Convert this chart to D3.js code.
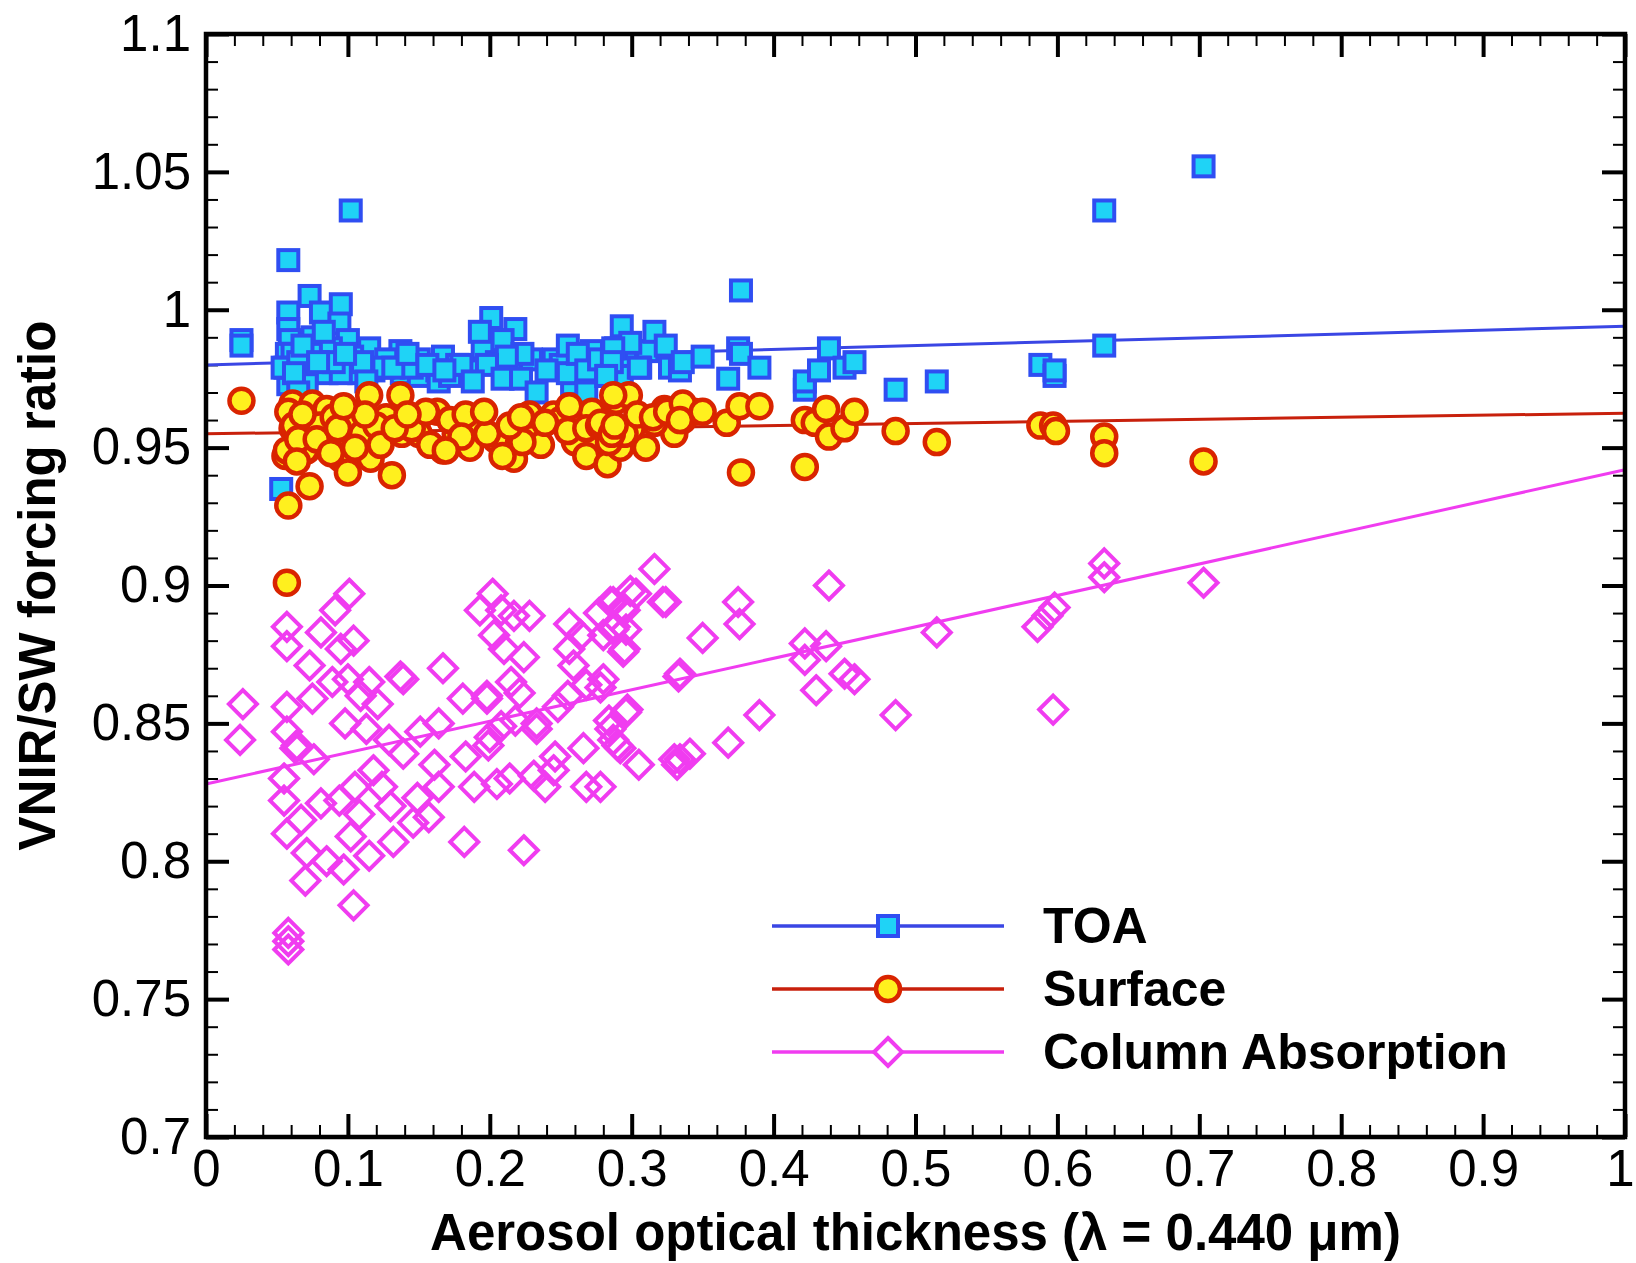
<!DOCTYPE html>
<html>
<head>
<meta charset="utf-8">
<script src="https://cdn.jsdelivr.net/npm/d3@7"></script>
<style>
  body { margin: 0; background: #fff; }
  text { font-family: "Liberation Sans", Arial, Helvetica, sans-serif; }
</style>
</head>
<body>
<div class="chart"></div>
<script>
// data: [aerosol optical thickness, forcing ratio]
const toaPoints = [
  [.025,.989],[.025,.987],[.058,1.018],[.102,1.036],[.058,.999],[.073,1.005],[.081,.999],[.095,1.002],
  [.094,.995],[.100,.989],[.115,.986],[.137,.985],[.150,.982],[.167,.983],[.058,.993],[.059,.989],
  [.057,.984],[.061,.984],[.075,.990],[.075,.984],[.088,.986],[.085,.977],[.103,.983],[.108,.977],
  [.095,.977],[.058,.973],[.071,.973],[.056,.979],[.054,.979],[.118,.978],[.127,.982],[.138,.977],
  [.150,.976],[.163,.978],[.164,.974],[.177,.980],[.053,.935],[.065,.981],[.090,.981],[.110,.981],
  [.125,.979],[.145,.979],[.185,.978],[.245,.982],[.062,.977],[.068,.987],[.079,.981],[.083,.992],
  [.098,.984],[.113,.974],[.132,.979],[.142,.984],[.156,.980],[.172,.976],[.195,.986],[.205,.981],
  [.216,.978],[.229,.982],[.250,.980],[.258,.973],[.272,.985],[.296,.982],[.311,.985],[.327,.979],
  [.065,.970],
  [.201,.997],[.193,.992],[.218,.993],[.209,.989],[.223,.984],[.212,.983],[.198,.980],[.180,.980],
  [.168,.978],[.188,.974],[.209,.975],[.222,.975],[.233,.970],[.240,.978],[.255,.987],[.255,.977],
  [.262,.984],[.268,.978],[.268,.970],[.277,.982],[.283,.976],[.289,.986],[.293,.994],[.293,.976],
  [.299,.988],[.306,.979],[.316,.992],[.324,.987],[.334,.978],[.336,.981],[.287,.986],[.286,.981],
  [.282,.976],[.305,.979],[.350,.983],[.368,.975],[.375,.986],[.377,.984],[.377,1.007],[.390,.979],
  [.422,.971],[.422,.974],[.432,.978],[.439,.986],[.450,.979],[.457,.981],[.486,.971],[.515,.974],
  [.588,.980],[.598,.976],[.598,.978],[.633,1.036],[.633,.987],[.703,1.052]
];
const surfacePoints = [
  [.025,.967],[.058,.929],[.073,.936],[.061,.957],[.061,.966],[.075,.966],[.075,.960],[.085,.952],
  [.071,.949],[.056,.947],[.101,.954],[.095,.946],[.100,.941],[.115,.969],[.137,.969],[.106,.959],
  [.116,.946],[.127,.961],[.138,.955],[.131,.940],[.149,.960],[.150,.955],[.167,.949],[.163,.963],
  [.176,.955],[.085,.964],[.058,.963],[.057,.901],[.062,.958],[.057,.949],[.070,.949],[.065,.953],
  [.080,.958],[.090,.961],[.110,.955],[.120,.958],[.145,.957],[.155,.963],[.190,.958],[.230,.957],
  [.245,.962],[.262,.960],[.275,.951],[.068,.962],[.078,.953],[.088,.948],[.093,.957],[.105,.950],
  [.112,.962],[.123,.951],[.133,.957],[.142,.962],[.158,.951],[.172,.960],[.186,.950],[.193,.959],
  [.204,.953],[.217,.946],[.228,.962],[.236,.951],[.250,.960],[.260,.952],[.272,.963],[.300,.957],
  [.310,.950],[.330,.955],[.064,.945],[.097,.965],
  [.183,.962],[.180,.954],[.169,.949],[.198,.955],[.196,.963],[.209,.947],[.223,.952],[.214,.958],
  [.222,.961],[.239,.959],[.255,.956],[.256,.965],[.268,.957],[.277,.958],[.268,.947],[.289,.967],
  [.298,.969],[.283,.944],[.292,.950],[.295,.955],[.304,.962],[.316,.959],[.323,.964],[.336,.960],
  [.344,.963],[.287,.969],[.278,.959],[.284,.952],[.286,.955],[.288,.958],[.315,.961],[.325,.963],
  [.336,.966],[.334,.960],[.350,.963],[.367,.959],[.376,.965],[.390,.965],[.377,.941],[.422,.943],
  [.422,.960],[.429,.959],[.437,.964],[.439,.954],[.450,.957],[.457,.963],[.486,.956],[.515,.952],
  [.588,.958],[.597,.958],[.599,.956],[.633,.954],[.633,.948],[.703,.945]
];
const columnPoints = [
  [.026,.857],[.024,.844],[.057,.885],[.057,.878],[.101,.897],[.091,.891],[.081,.883],[.104,.880],
  [.095,.877],[.073,.871],[.057,.856],[.075,.859],[.100,.866],[.115,.865],[.121,.857],[.109,.860],
  [.098,.850],[.113,.848],[.089,.865],[.057,.847],[.064,.842],[.063,.841],[.076,.837],[.055,.830],
  [.055,.822],[.057,.810],[.067,.815],[.071,.803],[.070,.793],[.081,.821],[.085,.800],[.097,.797],
  [.102,.809],[.104,.784],[.115,.802],[.118,.833],[.105,.827],[.094,.822],[.108,.817],[.124,.827],
  [.130,.820],[.132,.807],[.139,.839],[.129,.844],[.137,.867],[.139,.866],[.167,.870],[.151,.847],
  [.164,.850],[.161,.835],[.164,.827],[.149,.823],[.157,.816],[.146,.814],[.182,.807],[.181,.859],
  [.183,.838],[.189,.827],[.198,.860],[.198,.859],[.193,.891],[.202,.897],[.208,.891],[.203,.882],
  [.217,.889],[.228,.889],[.210,.877],[.224,.874],[.215,.865],[.221,.861],[.199,.842],[.200,.845],
  [.208,.849],[.218,.851],[.233,.850],[.233,.848],[.205,.828],[.214,.830],[.224,.804],[.231,.831],
  [.239,.827],[.245,.833],[.246,.838],[.256,.886],[.264,.882],[.256,.877],[.259,.871],[.268,.864],
  [.255,.860],[.248,.856],[.266,.841],[.268,.827],[.277,.890],[.280,.882],[.287,.894],[.295,.891],
  [.303,.897],[.316,.906],[.324,.894],[.295,.877],[.288,.885],[.280,.866],[.284,.851],[.296,.854],
  [.287,.844],[.292,.841],[.305,.835],[.333,.867],[.330,.837],[.058,.774],[.058,.771],[.058,.768],
  [.633,.908],[.633,.903],[.703,.901],[.598,.892],[.586,.885],[.593,.889],[.515,.883],[.439,.900],
  [.437,.878],[.422,.879],[.422,.873],[.450,.868],[.457,.866],[.430,.862],[.486,.853],[.597,.855],
  [.390,.853],[.334,.868],[.350,.881],[.375,.894],[.376,.886],[.368,.843],[.334,.837],[.341,.839],
  [.332,.835],[.299,.898],[.322,.894],[.294,.892],[.285,.894],[.296,.884],[.287,.884],[.294,.876],
  [.278,.863],[.297,.855],[.285,.848],[.290,.842],[.278,.827]
];

// fitted lines: [intercept, slope]
const toaFit = [0.980, 0.014];
const surfaceFit = [0.955, 0.0075];
const columnFit = [0.828, 0.114];

const seriesNames = ["TOA", "Surface", "Column Absorption"];
const xTicks = [0, 0.1, 0.2, 0.3, 0.4, 0.5, 0.6, 0.7, 0.8, 0.9, 1];
const xTickLabels = ["0", "0.1", "0.2", "0.3", "0.4", "0.5", "0.6", "0.7", "0.8", "0.9", "1"];
const yTicks = [0.7, 0.75, 0.8, 0.85, 0.9, 0.95, 1, 1.05, 1.1];
const yTickLabels = ["0.7", "0.75", "0.8", "0.85", "0.9", "0.95", "1", "1.05", "1.1"];

(() => {
  const W = 1636, H = 1263;
  const margin = { top: 34, right: 11, bottom: 126, left: 206 };
  const width = W - margin.left - margin.right;
  const height = H - margin.top - margin.bottom;

  const svg = d3.select(".chart").append("svg")
    .attr("width", W).attr("height", H);
  const g = svg.append("g")
    .attr("transform", `translate(${margin.left},${margin.top})`);

  const x = d3.scaleLinear().domain([0, 1]).range([0, width]);
  const y = d3.scaleLinear().domain([0.7, 1.1]).range([height, 0]);

  const xMinor = d3.range(0, 1.0001, 0.02).filter((v) => Math.abs(v * 10 - Math.round(v * 10)) > 1e-6);
  const yMinor = d3.range(0.7, 1.1001, 0.01).filter((v) => Math.abs(v * 20 - Math.round(v * 20)) > 1e-6);

  const styleAxis = (sel, w) => {
    sel.select(".domain").remove();
    sel.selectAll(".tick line").attr("stroke", "#000").attr("stroke-width", w);
  };

  // minor ticks, all four sides
  g.append("g").attr("transform", `translate(0,${height})`)
    .call(d3.axisBottom(x).tickValues(xMinor).tickSize(-12).tickFormat(""))
    .call(styleAxis, 2);
  g.append("g")
    .call(d3.axisTop(x).tickValues(xMinor).tickSize(-12).tickFormat(""))
    .call(styleAxis, 2);
  g.append("g")
    .call(d3.axisLeft(y).tickValues(yMinor).tickSize(-12).tickFormat(""))
    .call(styleAxis, 2);
  g.append("g").attr("transform", `translate(${width},0)`)
    .call(d3.axisRight(y).tickValues(yMinor).tickSize(-12).tickFormat(""))
    .call(styleAxis, 2);

  // major ticks
  const xAxis = g.append("g").attr("transform", `translate(0,${height})`)
    .call(d3.axisBottom(x).tickValues(xTicks).tickSize(-23).tickPadding(13)
      .tickFormat((d, i) => xTickLabels[i]))
    .call(styleAxis, 4);
  xAxis.selectAll("text").attr("font-size", 51).attr("fill", "#000")
    .attr("font-family", "'Liberation Sans', Arial, sans-serif");
  // the last label sits on the page edge; nudge it in so it is not cut
  xAxis.selectAll("text").filter((d) => d === 1).attr("dx", -5);

  const yAxis = g.append("g")
    .call(d3.axisLeft(y).tickValues(yTicks).tickSize(-23).tickPadding(15)
      .tickFormat((d, i) => yTickLabels[i]))
    .call(styleAxis, 4);
  yAxis.selectAll("text").attr("font-size", 51).attr("fill", "#000")
    .attr("font-family", "'Liberation Sans', Arial, sans-serif");

  g.append("g")
    .call(d3.axisTop(x).tickValues(xTicks).tickSize(-23).tickFormat(""))
    .call(styleAxis, 4);
  g.append("g").attr("transform", `translate(${width},0)`)
    .call(d3.axisRight(y).tickValues(yTicks).tickSize(-23).tickFormat(""))
    .call(styleAxis, 4);

  const series = [
    { name: seriesNames[0], pts: toaPoints, fit: toaFit, line: "#3a46e4", stroke: "#2f4ef2", fill: "#1fd3f6", shape: "square" },
    { name: seriesNames[1], pts: surfacePoints, fit: surfaceFit, line: "#c8200c", stroke: "#d92400", fill: "#fff01e", shape: "circle" },
    { name: seriesNames[2], pts: columnPoints, fit: columnFit, line: "#f03cf0", stroke: "#f03cf0", fill: "none", shape: "diamond" },
  ];

  const drawMarker = (sel, s, fill) => {
    const f = fill || s.fill;
    if (s.shape === "square") {
      sel.append("rect").attr("x", -10).attr("y", -10).attr("width", 20).attr("height", 20)
        .attr("fill", f).attr("stroke", s.stroke).attr("stroke-width", 4);
    } else if (s.shape === "circle") {
      sel.append("circle").attr("r", 12)
        .attr("fill", f).attr("stroke", s.stroke).attr("stroke-width", 4.5);
    } else {
      sel.append("path").attr("d", "M0,-14L14,0L0,14L-14,0Z")
        .attr("fill", f).attr("stroke", s.stroke).attr("stroke-width", 4);
    }
  };

  // regression lines under the markers
  const line = d3.line().x((d) => x(d[0])).y((d) => y(d[1]));
  series.forEach((s) => {
    g.append("path")
      .datum([0, 1].map((t) => [t, s.fit[0] + s.fit[1] * t]))
      .attr("d", line).attr("fill", "none")
      .attr("stroke", s.line).attr("stroke-width", 3);
  });

  series.forEach((s) => {
    g.append("g").selectAll("g")
      .data(s.pts).enter().append("g")
      .attr("transform", (d) => `translate(${x(d[0])},${y(d[1])})`)
      .each(function () { drawMarker(d3.select(this), s); });
  });

  // frame
  g.append("rect").attr("x", 0).attr("y", 0).attr("width", width).attr("height", height)
    .attr("fill", "none").attr("stroke", "#000").attr("stroke-width", 4.5);

  // legend
  const legend = g.append("g").attr("transform", `translate(${772 - margin.left},${926 - margin.top})`);
  series.forEach((s, i) => {
    const row = legend.append("g").attr("transform", `translate(0,${i * 63})`);
    row.append("line").attr("x1", 0).attr("x2", 232)
      .attr("stroke", s.line).attr("stroke-width", 3.5);
    drawMarker(row.append("g").attr("transform", "translate(116,0)"), s,
      s.fill === "none" ? "#fff" : s.fill);
    row.append("text").attr("x", 271).attr("y", 17)
      .attr("font-size", 50).attr("font-weight", "bold").attr("fill", "#000")
      .text(s.name);
  });

  // axis titles
  svg.append("text")
    .attr("x", margin.left + width / 2).attr("y", 1250)
    .attr("text-anchor", "middle").attr("font-size", 51).attr("font-weight", "bold")
    .text("Aerosol optical thickness (\u03bb = 0.440 \u03bcm)");
  svg.append("text")
    .attr("transform", `translate(55,${margin.top + height / 2}) rotate(-90)`)
    .attr("text-anchor", "middle").attr("font-size", 51).attr("font-weight", "bold")
    .text("VNIR/SW forcing ratio");
})();
</script>
</body>
</html>
